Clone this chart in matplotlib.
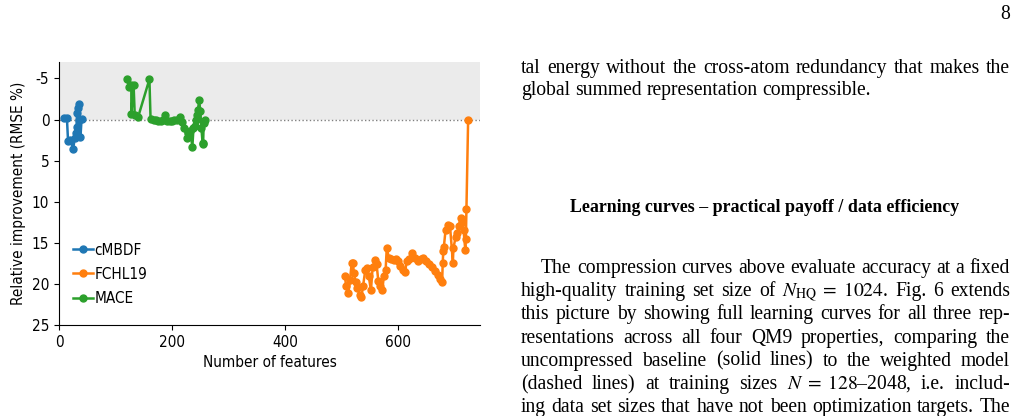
import matplotlib
matplotlib.use("Agg")
import matplotlib.pyplot as plt
from matplotlib import font_manager

# cMBDF
cmbdf_x = [8, 14, 16, 20, 25, 28, 30, 31, 32, 33, 35, 36, 38, 40]
cmbdf_y = [-0.2, -0.2, 2.6, 2.5, 3.6, 2.2, 1.6, 0.9, -0.8, -1.4, -1.9, 0.0, 2.1, -0.1]

# FCHL19
fchl_x = [506, 508, 512, 515, 518, 520, 522, 525, 528, 532, 535, 538, 542, 545, 548,
          552, 555, 559, 562, 565, 568, 572, 575, 578, 580, 584, 588, 592, 596, 600,
          604, 608, 612, 616, 620, 625, 630, 635, 640, 645, 650, 655, 660, 665, 670,
          675, 678, 679, 680, 681, 684, 688, 692, 697, 698, 702, 704, 708, 711, 714,
          716, 719, 720, 721, 724]
fchl_y = [19.0, 20.3, 21.1, 19.5, 17.4, 17.5, 18.7, 19.8, 20.5, 21.3, 21.6, 20.3, 18.3, 18.1, 19.0,
          20.8, 18.0, 17.1, 17.6, 19.6, 20.2, 20.8, 19.0, 18.3, 15.6, 16.9, 17.0, 17.1, 17.0, 17.2,
          17.8, 18.3, 18.5, 17.2, 17.0, 16.3, 16.8, 17.2, 17.0, 16.8, 17.2, 17.6, 18.0, 18.4, 18.9,
          19.4, 19.8, 17.5, 16.0, 15.5, 13.5, 12.8, 13.0, 17.4, 15.6, 14.3, 13.8, 13.0, 12.0, 12.5,
          13.5, 15.9, 14.5, 10.9, 0.0]

# MACE
mace_x = [120, 124, 128, 128, 132, 134, 140, 160, 162, 168, 172, 176, 180, 184, 188, 192,
          196, 200, 204, 208, 214, 218, 222, 226, 228, 232, 236, 238, 240, 242, 244, 246,
          248, 250, 252, 254, 255, 256, 258]
mace_y = [-4.9, -4.0, -4.2, -0.7, -4.2, -0.6, -0.3, -4.9, -0.1, 0.0, 0.1, 0.2, 0.2, 0.1, -0.6, 0.2,
          0.2, 0.2, 0.1, 0.0, -0.3, 0.3, 1.0, 2.2, 1.6, 1.4, 3.3, 1.0, 0.8, 0.0, -0.6, -1.2,
          -2.4, -1.0, 1.0, 2.8, 3.0, 0.4, 0.0]

plt.rcParams['axes.unicode_minus'] = False
plt.rcParams['mathtext.fontset'] = 'stix'
serif = ['Liberation Serif', 'DejaVu Serif']
# narrow sans for the axes, like the original
sans = font_manager.FontProperties(family='DejaVu Sans', stretch='condensed', size=11)

fig = plt.figure(figsize=(10.17, 4.16), dpi=100)
ax = fig.add_axes([59 / 1017, 1 - 325 / 416, (480 - 59) / 1017, (325 - 62) / 416])

ax.axhspan(-7, 0, color='#ebebeb', zorder=0, lw=0)
ax.axhline(0, color='gray', ls=':', lw=1, zorder=1)
ax.plot(cmbdf_x, cmbdf_y, '-o', color='#1f77b4', ms=5, lw=1.8, label='cMBDF')
ax.plot(fchl_x, fchl_y, '-o', color='#ff7f0e', ms=5, lw=1.8, label='FCHL19')
ax.plot(mace_x, mace_y, '-o', color='#2ca02c', ms=5, lw=1.8, label='MACE')

ax.set_xlim(0, 745)
ax.set_ylim(25, -7)
ax.set_yticks([-5, 0, 5, 10, 15, 20, 25])
ax.set_xticks([0, 200, 400, 600])
ax.spines['top'].set_visible(False)
ax.spines['right'].set_visible(False)
for lab in ax.get_xticklabels() + ax.get_yticklabels():
    lab.set_fontproperties(sans)
ax.set_xlabel('Number of features', fontproperties=sans)
ax.set_ylabel('Relative improvement (RMSE %)', fontproperties=sans)
ax.legend(loc='lower left', bbox_to_anchor=(0.0, 0.02), frameon=False,
          prop=sans, handlelength=1.3, handletextpad=0.1, labelspacing=0.6)

# text column on the right, justified like the page
fs = 14.1
left, right = 521, 1010
renderer = fig.canvas.get_renderer()


def put_line(words, ybase, x0=left, justify=True):
    arts = []
    for w in words:
        arts.append(fig.text(0, 0, w, family=serif, fontsize=fs, va='baseline'))
    widths = [a.get_window_extent(renderer).width for a in arts]
    space = fs * 100 / 72 * 0.25
    if justify and len(words) > 1:
        space = (right - x0 - sum(widths)) / (len(words) - 1)
    x = x0
    for a, w in zip(arts, widths):
        a.set_position((x / 1017, 1 - ybase / 416))
        x += w + space


fig.text(1010 / 1017, 1 - 19 / 416, '8', family=serif, fontsize=fs, ha='right', va='baseline')
put_line('tal energy without the cross-atom redundancy that makes the'.split(), 73)
put_line('global summed representation compressible.'.split(), 95, justify=False)
fig.text(765 / 1017, 1 - 212 / 416, 'Learning curves – practical payoff / data efficiency',
         family=serif, fontsize=12.9, weight='bold', ha='center', va='baseline')

para = [
    ('The compression curves above evaluate accuracy at a fixed', True),
    (r'high-quality training set size of $N_{\mathrm{HQ}}\;=\;1024$.  Fig. 6 extends', False),
    ('this picture by showing full learning curves for all three rep-', False),
    ('resentations across all four QM9 properties, comparing the', False),
    ('uncompressed baseline (solid lines) to the weighted model', False),
    (r'(dashed lines) at training sizes $N\;=\;128$–2048, i.e.  includ-', False),
    ('ing data set sizes that have not been optimization targets. The', False),
]
yb = 273
for text, indent in para:
    put_line(text.split(), yb, x0=left + 20 if indent else left)
    yb += 23.2

fig.savefig('out.png', dpi=100)
